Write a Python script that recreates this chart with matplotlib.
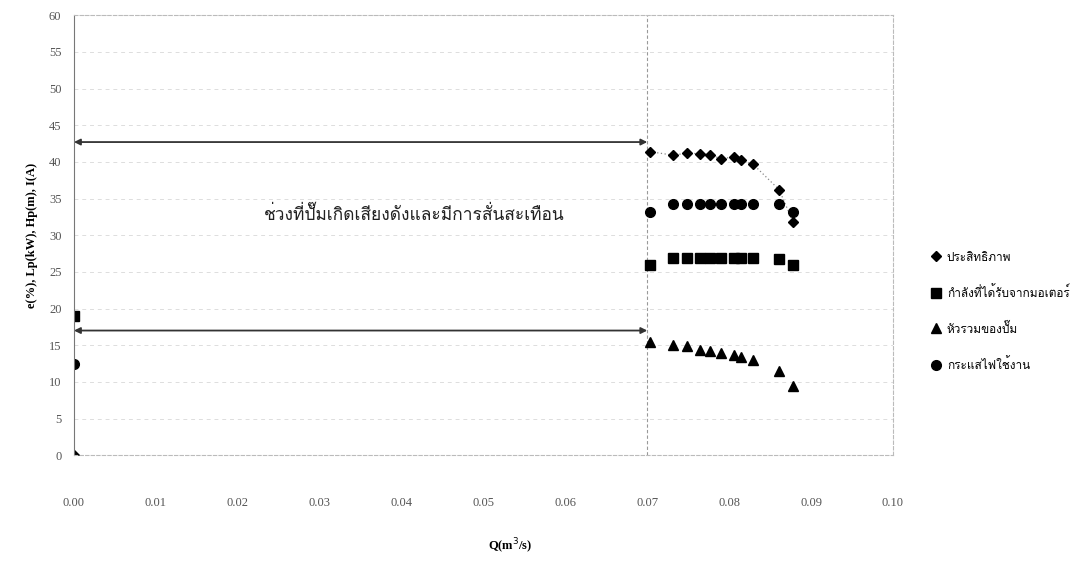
import matplotlib
matplotlib.use("Agg")
import matplotlib.pyplot as plt
from matplotlib import font_manager
from matplotlib.ft2font import FT2Font


def findThaiFont():
    # Pick the first installed font that actually has Thai glyphs
    for f in font_manager.fontManager.ttflist:
        try:
            cmap = FT2Font(f.fname).get_charmap()
        except Exception:
            continue
        if 0x0E1B in cmap and 0x0E34 in cmap:
            return f.name
    return "DejaVu Sans"


thaiFont = findThaiFont()
plt.rcParams['font.family'] = [thaiFont, 'Liberation Serif', 'DejaVu Sans']

# Pump test data (flow rate in m^3/s)
q = [0.0703, 0.0732, 0.0748, 0.0764, 0.0777, 0.0790, 0.0806, 0.0814, 0.0829, 0.0861, 0.0878]
efficiency = [41.4, 40.9, 41.2, 41.1, 41.0, 40.4, 40.7, 40.2, 39.7, 36.2, 31.8]
power = [25.9, 26.9, 26.9, 26.9, 26.9, 26.9, 26.9, 26.9, 26.9, 26.8, 25.9]
head = [15.5, 15.0, 14.9, 14.4, 14.2, 13.9, 13.6, 13.4, 13.0, 11.5, 9.5]
current = [33.2, 34.2, 34.2, 34.2, 34.2, 34.2, 34.2, 34.2, 34.2, 34.3, 33.2]

# Shut-off readings at Q = 0
q0 = [0.0]
efficiency0 = [0.0]
power0 = [19.0]
current0 = [12.5]

labels = ['ประสิทธิภาพ', 'กำลังที่ได้รับจากมอเตอร์', 'หัวรวมของปั๊ม', 'กระแสไฟใช้งาน']
noiseText = 'ช่วงที่ปั๊มเกิดเสียงดังและมีการสั่นสะเทือน'
noiseStart, noiseEnd = 0.0, 0.07
noiseLevels = [42.7, 17.0]

fig = plt.figure(figsize=(10.72, 5.62), dpi=100)
ax = fig.add_axes([0.069, 0.19, 0.764, 0.783])

serif = ['Liberation Serif', 'DejaVu Serif']

ax.set_xlim(0, 0.10)
ax.set_ylim(0, 60)
ax.set_xticks([i / 100 for i in range(11)])
ax.set_yticks(range(0, 61, 5))
ax.set_xticklabels([f'{i / 100:.2f}' for i in range(11)], family=serif, fontsize=9, color='#555555')
ax.set_yticklabels([str(v) for v in range(0, 61, 5)], family=serif, fontsize=9, color='#555555')
ax.tick_params(axis='both', length=0)
ax.tick_params(axis='x', pad=30)
ax.tick_params(axis='y', pad=9)

ax.grid(axis='y', linestyle=(0, (4, 4)), color='#dddddd', linewidth=0.7)
for side in ['top', 'right', 'bottom']:
    ax.spines[side].set_linestyle((0, (3, 2)))
    ax.spines[side].set_color('#bbbbbb')
    ax.spines[side].set_linewidth(0.8)
ax.spines['left'].set_linestyle((0, (3, 1)))
ax.spines['left'].set_color('#777777')
ax.spines['left'].set_linewidth(0.8)

ax.axvline(noiseEnd, color='#999999', linestyle=(0, (3, 2)), linewidth=0.8)

# Dotted trend through the efficiency points
ax.plot(q, efficiency, linestyle=(0, (1, 2)), color='#888888', linewidth=0.9)

ax.plot(q, efficiency, 'D', color='black', markersize=5.5, label=labels[0])
ax.plot(q, power, 's', color='black', markersize=6.5, label=labels[1])
ax.plot(q, head, '^', color='black', markersize=7, label=labels[2])
ax.plot(q, current, 'o', color='black', markersize=7, label=labels[3])

ax.plot(q0, efficiency0, 'D', color='black', markersize=5.5)
ax.plot(q0, power0, 's', color='black', markersize=6.5)
ax.plot(q0, current0, 'o', color='black', markersize=7)

for level in noiseLevels:
    ax.annotate('', xy=(noiseStart, level), xytext=(noiseEnd, level),
                arrowprops=dict(arrowstyle='<|-|>', color='#333333', lw=1.3,
                                mutation_scale=9, shrinkA=0, shrinkB=0))

ax.text(0.0415, 32.8, noiseText, ha='center', va='center', fontsize=12.5, color='#222222')

ax.set_xlabel('Q(m$^3$/s)', family=serif, fontsize=9, fontweight='bold')
ax.xaxis.set_label_coords(0.532, -0.185)
ax.set_ylabel('e(%), Lp(kW), Hp(m), I(A)', family=serif, fontsize=9, fontweight='bold', labelpad=8)

fig.legend(loc='upper left', bbox_to_anchor=(0.858, 0.57), frameon=False, fontsize=8.5,
           labelspacing=1.9, handletextpad=0.4, handlelength=1.0)

fig.savefig('out.png', dpi=100)
